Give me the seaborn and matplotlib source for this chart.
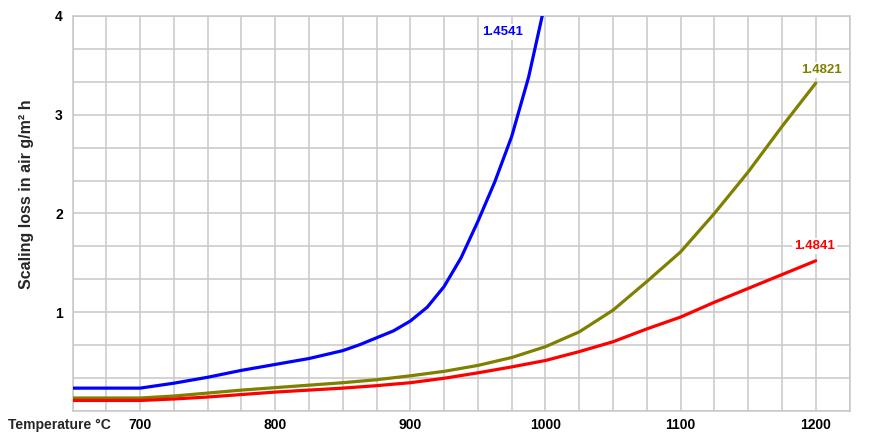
#!/usr/bin/env python3
"""Scaling loss in air vs. temperature for three heat-resistant steel grades."""

import numpy as np
import pandas as pd
import matplotlib
matplotlib.use("Agg")
import matplotlib.pyplot as plt
from matplotlib.ticker import MultipleLocator, FixedLocator
import seaborn as sns

# Data
temp_4541 = [650, 700, 725, 750, 775, 800, 825, 850, 862.5, 875, 887.5, 900, 912.5, 925,
             937.5, 950, 962.5, 975, 987.5, 1000]
loss_4541 = [0.23, 0.23, 0.28, 0.34, 0.41, 0.47, 0.53, 0.61, 0.67, 0.74, 0.81, 0.91, 1.05, 1.26,
             1.55, 1.92, 2.32, 2.78, 3.38, 4.15]

temp_4821 = [650, 700, 725, 750, 775, 800, 825, 850, 875, 900, 925, 950, 975,
             1000, 1025, 1050, 1075, 1100, 1125, 1150, 1175, 1200]
loss_4821 = [0.13, 0.13, 0.15, 0.18, 0.21, 0.235, 0.26, 0.285, 0.315, 0.355, 0.40, 0.46, 0.54,
             0.65, 0.80, 1.02, 1.31, 1.61, 2.00, 2.42, 2.88, 3.32]

temp_4841 = [650, 700, 725, 750, 775, 800, 825, 850, 875, 900, 925, 950, 975,
             1000, 1025, 1050, 1075, 1100, 1125, 1150, 1175, 1200]
loss_4841 = [0.105, 0.105, 0.12, 0.14, 0.165, 0.19, 0.21, 0.23, 0.255, 0.285, 0.33, 0.385, 0.445,
             0.51, 0.60, 0.70, 0.83, 0.95, 1.10, 1.24, 1.38, 1.52]

grades = ["1.4541", "1.4821", "1.4841"]
x_ticks = [700, 800, 900, 1000, 1100, 1200]
y_ticks = [1, 2, 3, 4]

palette = {"1.4541": "#0000FF", "1.4821": "#808000", "1.4841": "#FF0000"}
GRID = "#c8c8c8"


def build_frame():
    parts = []
    for g, t, v in zip(grades, [temp_4541, temp_4821, temp_4841],
                       [loss_4541, loss_4821, loss_4841]):
        parts.append(pd.DataFrame({"temp": t, "loss": v, "grade": g}))
    return pd.concat(parts, ignore_index=True)


def main():
    df = build_frame()

    sns.set_style("white")
    plt.rcParams["font.family"] = ["Liberation Sans", "DejaVu Sans"]

    fig = plt.figure(figsize=(8.74, 4.32), dpi=100)
    ax = fig.add_axes([0.083, 0.049, 0.889, 0.914])

    sns.lineplot(data=df, x="temp", y="loss", hue="grade", palette=palette,
                 linewidth=2.3, legend=False, ax=ax, zorder=3)

    ax.set_xlim(650, 1225)
    ax.set_ylim(0, 4)

    ax.xaxis.set_major_locator(FixedLocator(x_ticks))
    ax.xaxis.set_minor_locator(MultipleLocator(25))
    ax.yaxis.set_major_locator(FixedLocator(y_ticks))
    ax.yaxis.set_minor_locator(MultipleLocator(1 / 3))
    ax.grid(True, which="both", color=GRID, linewidth=1.1, zorder=0)
    ax.set_axisbelow(True)
    ax.tick_params(which="both", length=0, labelsize=10, colors="black")
    ax.tick_params(axis="x", pad=5)
    ax.tick_params(axis="y", pad=7)
    for lbl in ax.get_xticklabels() + ax.get_yticklabels():
        lbl.set_fontweight("bold")
    for s in ax.spines.values():
        s.set_color(GRID)
        s.set_linewidth(1.1)

    ax.set_xlabel("")
    ax.set_ylabel("")
    fig.text(8 / 874, 1 - 425 / 432, "Temperature °C", ha="left", va="center",
             fontsize=10, fontweight="bold")
    fig.text(27 / 874, 1 - 194 / 432, "Scaling loss in air g/m² h", rotation=90,
             ha="center", va="center", fontsize=11.5, fontweight="bold")

    # End-of-curve labels
    box = dict(facecolor="white", edgecolor="none", pad=1.5)
    ax.text(983, 3.84, "1.4541", color=palette["1.4541"], ha="right", va="center",
            fontsize=9.5, fontweight="bold", bbox=box, zorder=4)
    ax.text(1204, 3.45, "1.4821", color=palette["1.4821"], ha="center", va="center",
            fontsize=9.5, fontweight="bold", bbox=box, zorder=4)
    ax.text(1199, 1.67, "1.4841", color=palette["1.4841"], ha="center", va="center",
            fontsize=9.5, fontweight="bold", bbox=box, zorder=4)

    fig.savefig("out.png", dpi=100)
    plt.close(fig)


if __name__ == "__main__":
    main()
